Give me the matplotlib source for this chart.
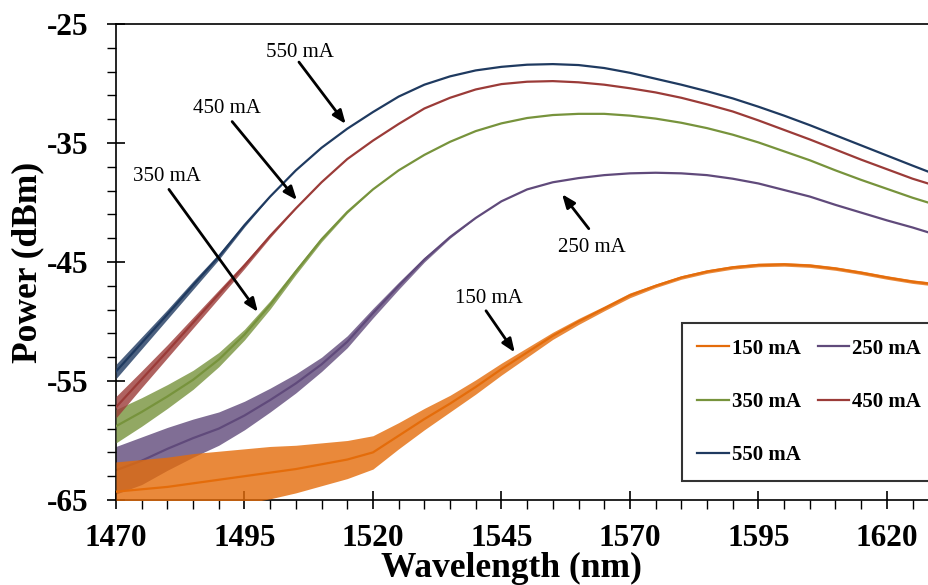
import matplotlib
matplotlib.use("Agg")
import matplotlib.pyplot as plt
from matplotlib.ticker import MultipleLocator

plt.rcParams["font.family"] = ["Liberation Serif", "DejaVu Serif"]
plt.rcParams["axes.unicode_minus"] = False

# Wavelength grid (nm)
wavelength = [1470, 1475, 1480, 1485, 1490, 1495, 1500, 1505, 1510, 1515, 1520,
              1525, 1530, 1535, 1540, 1545, 1550, 1555, 1560, 1565, 1570, 1575,
              1580, 1585, 1590, 1595, 1600, 1605, 1610, 1615, 1620, 1625, 1628]

# Mean spectral power (dBm) for each drive current
p150 = [-64.3, -64.1, -63.9, -63.6, -63.3, -63.0, -62.7, -62.4, -62.0, -61.6, -61.0,
        -59.6, -58.2, -56.9, -55.5, -54.0, -52.6, -51.2, -50.0, -48.9, -47.8, -47.0,
        -46.3, -45.8, -45.45, -45.25, -45.2, -45.3, -45.55, -45.9, -46.3, -46.65, -46.8]
p250 = [-62.5, -61.7, -60.7, -59.8, -59.0, -57.9, -56.6, -55.2, -53.6, -51.7, -49.3,
        -47.0, -44.8, -42.9, -41.3, -39.9, -38.9, -38.3, -37.95, -37.7, -37.55, -37.5,
        -37.55, -37.7, -38.0, -38.4, -38.95, -39.5, -40.2, -40.85, -41.5, -42.1, -42.5]
p350 = [-58.8, -57.6, -56.3, -54.9, -53.2, -51.1, -48.6, -45.8, -43.1, -40.8, -38.9,
        -37.3, -36.0, -34.9, -34.0, -33.35, -32.9, -32.65, -32.55, -32.55, -32.7, -32.95,
        -33.3, -33.75, -34.3, -34.95, -35.7, -36.45, -37.3, -38.1, -38.85, -39.6, -40.0]
p450 = [-57.2, -54.85, -52.5, -50.1, -47.7, -45.3, -42.8, -40.5, -38.3, -36.35, -34.8,
        -33.4, -32.1, -31.2, -30.5, -30.05, -29.85, -29.8, -29.9, -30.1, -30.4, -30.75,
        -31.2, -31.75, -32.35, -33.1, -33.9, -34.7, -35.55, -36.4, -37.2, -38.0, -38.4]
p550 = [-54.2, -51.8, -49.4, -46.95, -44.55, -41.9, -39.5, -37.3, -35.4, -33.8, -32.4,
        -31.1, -30.1, -29.4, -28.9, -28.6, -28.42, -28.37, -28.45, -28.7, -29.1, -29.6,
        -30.1, -30.65, -31.25, -31.95, -32.7, -33.5, -34.35, -35.2, -36.05, -36.9, -37.4]

# Half-width of the noise spread around each trace (dB)
s150 = [2.5, 2.5, 2.5, 2.5, 2.4, 2.3, 2.2, 2.0, 1.8, 1.6, 1.4, 1.1, 0.9, 0.7, 0.6,
        0.5, 0.4, 0.3, 0.25, 0.2, 0.2, 0.15, 0.15, 0.15, 0.15, 0.15, 0.15, 0.15,
        0.15, 0.15, 0.15, 0.15, 0.15]
s250 = [2.0, 2.0, 1.8, 1.6, 1.4, 1.2, 1.0, 0.8, 0.6, 0.5, 0.4, 0.3, 0.2, 0.1, 0.0,
        0.0, 0.0, 0.0, 0.0, 0.0, 0.0, 0.0, 0.0, 0.0, 0.0, 0.0, 0.0, 0.0, 0.0, 0.0,
        0.0, 0.0, 0.0]
s350 = [1.4, 1.2, 1.0, 0.8, 0.6, 0.45, 0.35, 0.25, 0.2, 0.1, 0.0, 0.0, 0.0, 0.0,
        0.0, 0.0, 0.0, 0.0, 0.0, 0.0, 0.0, 0.0, 0.0, 0.0, 0.0, 0.0, 0.0, 0.0, 0.0,
        0.0, 0.0, 0.0, 0.0]
s450 = [0.9, 0.7, 0.55, 0.45, 0.35, 0.25, 0.15, 0.0, 0.0, 0.0, 0.0, 0.0, 0.0, 0.0,
        0.0, 0.0, 0.0, 0.0, 0.0, 0.0, 0.0, 0.0, 0.0, 0.0, 0.0, 0.0, 0.0, 0.0, 0.0,
        0.0, 0.0, 0.0, 0.0]
s550 = [0.6, 0.5, 0.4, 0.35, 0.25, 0.15, 0.0, 0.0, 0.0, 0.0, 0.0, 0.0, 0.0, 0.0,
        0.0, 0.0, 0.0, 0.0, 0.0, 0.0, 0.0, 0.0, 0.0, 0.0, 0.0, 0.0, 0.0, 0.0, 0.0,
        0.0, 0.0, 0.0, 0.0]

labels = ["150 mA", "250 mA", "350 mA", "450 mA", "550 mA"]
colors = ["#E46C0A", "#604A7B", "#77933C", "#9B3B38", "#1F3A60"]
powers = [p150, p250, p350, p450, p550]
spreads = [s150, s250, s350, s450, s550]
zorders = [3, 2, 4, 5, 6]

fig = plt.figure(figsize=(9.29, 5.85), dpi=100)
ax = fig.add_axes([116 / 929, 85 / 585, 813 / 929, 476 / 585])

handles = {}
for lab, col, p, s, z in zip(labels, colors, powers, spreads, zorders):
    lo = [v - d for v, d in zip(p, s)]
    hi = [v + d for v, d in zip(p, s)]
    ax.fill_between(wavelength, lo, hi, color=col, linewidth=0, alpha=0.8, zorder=z)
    line, = ax.plot(wavelength, p, color=col, lw=1.6, zorder=z, label=lab,
                    solid_joinstyle="round")
    handles[lab] = line

ax.set_xlim(1470, 1628.2)
ax.set_ylim(-65, -25)
ax.xaxis.set_major_locator(MultipleLocator(25, offset=20))
ax.xaxis.set_minor_locator(MultipleLocator(5))
ax.yaxis.set_major_locator(MultipleLocator(10, offset=5))
ax.yaxis.set_minor_locator(MultipleLocator(2, offset=1))

for side in ["left", "bottom", "top"]:
    ax.spines[side].set_linewidth(1.2)
    ax.spines[side].set_color("black")
ax.spines["right"].set_visible(False)

ax.tick_params(which="major", direction="inout", length=13, width=1.2, color="black")
ax.tick_params(which="minor", direction="out", length=6.5, width=1.0, color="black")
ax.tick_params(axis="y", which="major", pad=13)
ax.tick_params(axis="x", which="major", pad=11)
ax.tick_params(top=False, right=False, which="both")

for lbl in ax.get_xticklabels() + ax.get_yticklabels():
    lbl.set_fontsize(22.5)
    lbl.set_fontweight("bold")

ax.set_xlabel("Wavelength (nm)", fontsize=25.5, fontweight="bold", va="center")
ax.set_ylabel("Power (dBm)", fontsize=25.5, fontweight="bold", va="center")
ax.xaxis.set_label_coords(0.486, -0.1445)
ax.yaxis.set_label_coords(-0.108, 0.5)

# Callouts: (label, text position, arrow tail, arrow head) in data coordinates
callouts = [
    ("550 mA", (1505.8, -27.4), (1505.6, -28.2), (1514.7, -33.4)),
    ("450 mA", (1491.6, -32.1), (1492.6, -33.2), (1505.2, -39.8)),
    ("350 mA", (1479.9, -37.8), (1480.3, -38.9), (1497.6, -49.2)),
    ("250 mA", (1562.6, -43.8), (1562.0, -42.2), (1556.8, -39.3)),
    ("150 mA", (1542.6, -48.1), (1542.0, -49.1), (1547.6, -52.6)),
]
for text, tpos, tail, head in callouts:
    ax.text(tpos[0], tpos[1], text, fontsize=15, ha="center", va="center", zorder=10)
    ax.annotate("", xy=head, xytext=tail, zorder=10,
                arrowprops=dict(arrowstyle="-|>,head_length=0.8,head_width=0.32",
                                color="black", lw=2, mutation_scale=10,
                                shrinkA=0, shrinkB=0))

order = ["150 mA", "350 mA", "550 mA", "250 mA", "450 mA"]
leg = ax.legend([handles[k] for k in order], order, ncol=2, loc="upper left",
                bbox_to_anchor=(0.696, 0.372), frameon=True, fancybox=False,
                edgecolor="black", prop={"size": 15, "weight": "bold"},
                handlelength=1.5, handletextpad=0.15, columnspacing=0.8,
                labelspacing=1.6, borderpad=0.75, borderaxespad=0)
leg.get_frame().set_linewidth(1.5)
leg.set_zorder(20)

fig.savefig("out.png", dpi=100)
